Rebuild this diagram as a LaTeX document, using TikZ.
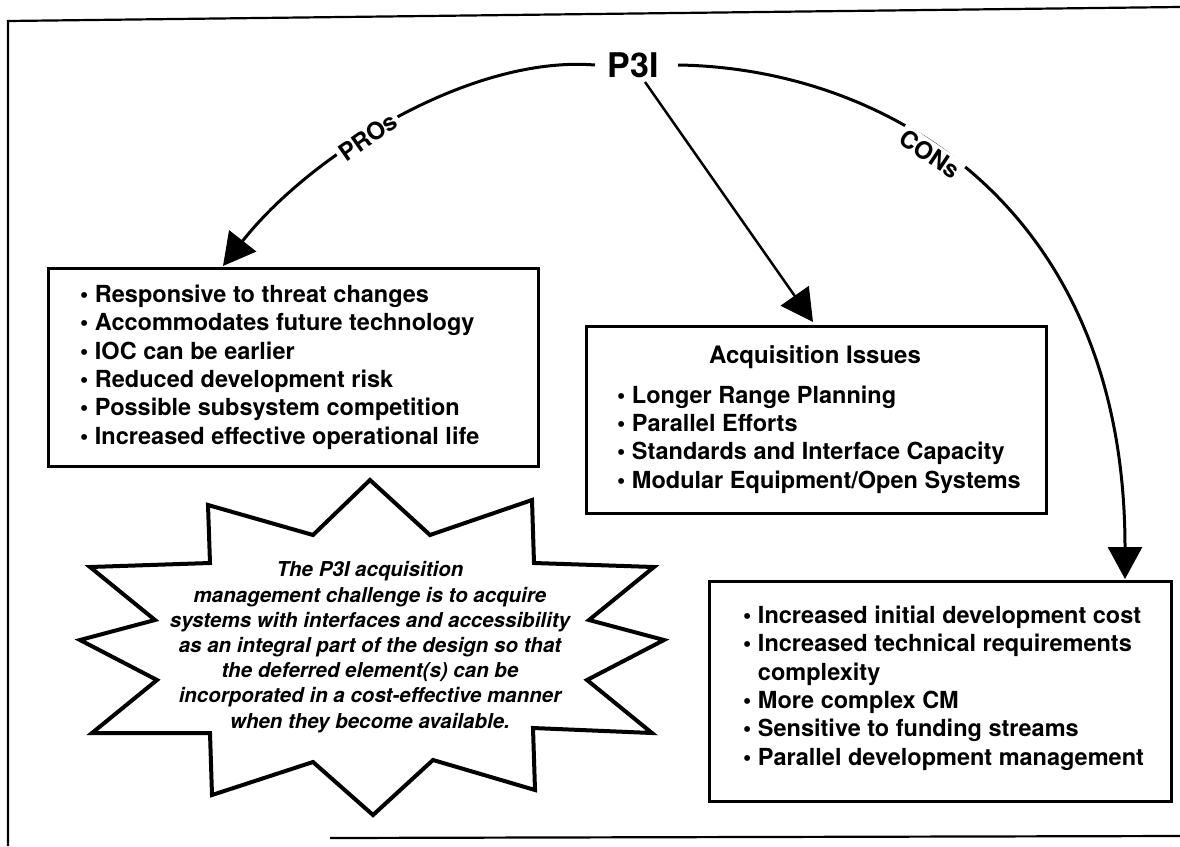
\documentclass[tikz,border=0pt]{standalone}
\usepackage{fontspec}
\setmainfont{TeX Gyre Heros}
\usetikzlibrary{arrows.meta}
\begin{document}
\begin{tikzpicture}[x=1pt,y=-1pt,
  framel/.style={line width=2.2pt},
  box/.style={draw, line width=2.7pt, inner sep=0pt, anchor=north west},
  itemtext/.style={font=\fontsize{23.5}{28.3}\selectfont\bfseries, align=left, anchor=base west, inner sep=0pt},
  curvearrow/.style={line width=3pt, -{Triangle[length=32pt,width=34pt]}},
  straightarrow/.style={line width=2.5pt, -{Triangle[length=32pt,width=34pt]}},
  arclabel/.style={font=\fontsize{24}{24}\selectfont\bfseries, fill=white, inner sep=3pt},
  burst/.style={draw, line width=4pt, line join=miter}
]
\useasboundingbox (0,0) rectangle (1180,846);
% frame
\draw[framel] (8,846) -- (8,21) -- (1180,7);
\draw[framel] (330,838) -- (1180,836);

% title
\node[font=\fontsize{34}{34}\selectfont\bfseries, inner sep=2pt] (p3i) at (633,65) {P3I};

% boxes
\node[box, minimum width=490pt, minimum height=198pt] (pros) at (47,267) {};
\node[box, minimum width=460pt, minimum height=187pt] (acq) at (585,325) {};
\node[box, minimum width=462pt, minimum height=220pt] (cons) at (708,580) {};

% multi-line texts are anchored at the baseline of their last line
\node[itemtext] (prostext) at (80,444) {\textbullet\ Responsive to threat changes\\
\textbullet\ Accommodates future technology\\
\textbullet\ IOC can be earlier\\
\textbullet\ Reduced development risk\\
\textbullet\ Possible subsystem competition\\
\textbullet\ Increased effective operational life};

\node[font=\fontsize{24}{24}\selectfont\bfseries, anchor=base, inner sep=0pt] (acqtitle) at (815,363) {Acquisition Issues};
\node[itemtext] (acqtext) at (617,488) {\textbullet\ Longer Range Planning\\
\textbullet\ Parallel Efforts\\
\textbullet\ Standards and Interface Capacity\\
\textbullet\ Modular Equipment/Open Systems};

\node[itemtext] (constext) at (743,765) {\textbullet\ Increased initial development cost\\
\textbullet\ Increased technical requirements\\
\hphantom{\textbullet\ }complexity\\
\textbullet\ More complex CM\\
\textbullet\ Sensitive to funding streams\\
\textbullet\ Parallel development management};

% connectors
\coordinate (prosin) at (223,266);
\coordinate (acqin) at (813,322);
\coordinate (consin) at (1125,579);
\coordinate (p3iL) at (595,65);
\coordinate (p3iR) at (678,65);
\coordinate (p3iB) at (645,82);
\draw[curvearrow] (p3iL) .. controls (470,55) and (310,155) .. (prosin);
\draw[curvearrow] (p3iR) .. controls (885,68) and (1125,205) .. (consin);
\draw[straightarrow] (p3iB) -- (acqin);
\node[arclabel, rotate=35] (proslabel) at (368,137) {PROs};
\node[arclabel, rotate=-34] (conslabel) at (930,154) {CONs};

% starburst
\draw[burst] (370,480) -- (430,535) -- (532,500) -- (534,563) -- (654,567) -- (589,620)
  -- (664,640) -- (587,680) -- (652,733) -- (533,728) -- (535,790) -- (433,760)
  -- (373,815) -- (313,762) -- (212,795) -- (210,733) -- (92,733) -- (157,680)
  -- (80,640) -- (155,620) -- (90,567) -- (210,563) -- (208,505) -- (313,535) -- cycle;
\node[font=\fontsize{20.5}{25.2}\selectfont\bfseries\itshape, align=center, anchor=base, inner sep=0pt] (bursttext) at (370,728)
{The P3I acquisition\\
management challenge is to acquire\\
systems with interfaces and accessibility\\
as an integral part of the design so that\\
the deferred element(s) can be\\
incorporated in a cost-effective manner\\
when they become available.};
\end{tikzpicture}
\end{document}
